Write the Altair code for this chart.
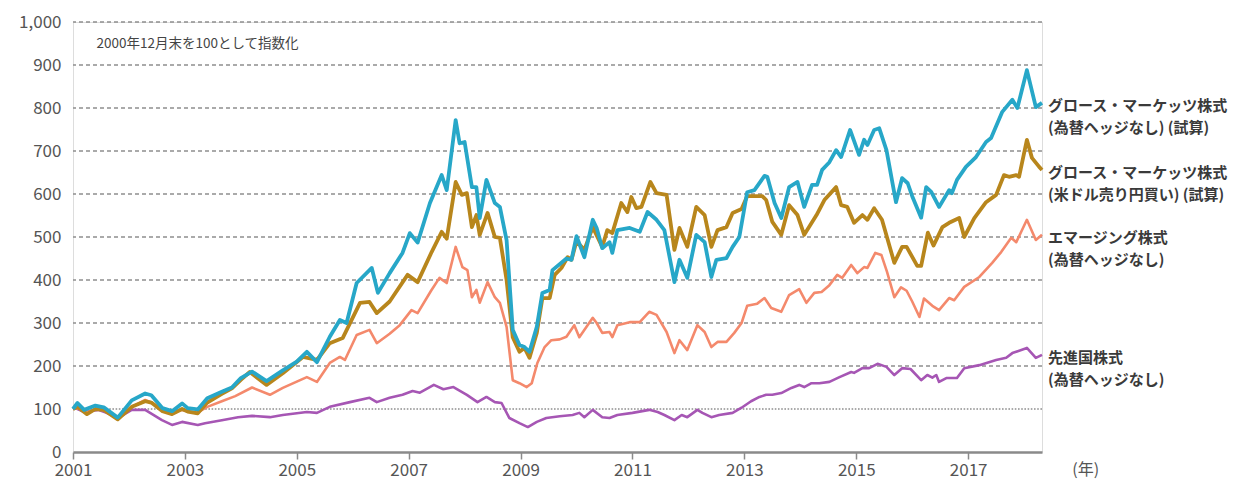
import altair as alt
import pandas as pd

# ---- data ----
blue_x = [2001.0, 2001.08, 2001.2, 2001.4, 2001.55, 2001.8, 2002.05, 2002.29, 2002.4, 2002.6, 2002.77, 2002.95,
          2003.05, 2003.23, 2003.4, 2003.66, 2003.84, 2004.0, 2004.2, 2004.46, 2004.75, 2005.0, 2005.18, 2005.36,
          2005.59, 2005.77, 2005.89, 2006.07, 2006.34, 2006.45, 2006.66, 2006.89, 2007.02, 2007.16, 2007.38,
          2007.59, 2007.68, 2007.84, 2007.91, 2008.0, 2008.13, 2008.21, 2008.27, 2008.39, 2008.54, 2008.63,
          2008.75, 2008.86, 2008.98, 2009.07, 2009.16, 2009.29, 2009.39, 2009.52, 2009.57, 2009.73, 2009.82,
          2009.91, 2010.0, 2010.14, 2010.29, 2010.36, 2010.46, 2010.59, 2010.64, 2010.73, 2010.95, 2011.13,
          2011.27, 2011.43, 2011.57, 2011.75, 2011.84, 2011.98, 2012.14, 2012.29, 2012.41, 2012.5, 2012.68,
          2012.79, 2012.91, 2013.05, 2013.18, 2013.36, 2013.41, 2013.54, 2013.66, 2013.8, 2013.95, 2014.07,
          2014.21, 2014.3, 2014.39, 2014.52, 2014.64, 2014.73, 2014.89, 2015.05, 2015.14, 2015.2, 2015.32,
          2015.41, 2015.54, 2015.71, 2015.82, 2015.92, 2016.0, 2016.16, 2016.25, 2016.34, 2016.48, 2016.66,
          2016.71, 2016.8, 2016.96, 2017.14, 2017.32, 2017.41, 2017.61, 2017.79, 2017.88, 2018.05, 2018.21,
          2018.32]
blue_y = [100, 114, 98, 108, 104, 80, 120, 136, 132, 102, 95, 113,
          102, 99, 125, 140, 150, 172, 187, 165, 190, 210, 233, 209,
          268, 307, 300, 393, 428, 370, 416, 463, 509, 487, 579,
          644, 609, 772, 718, 721, 616, 616, 544, 633, 579, 570,
          493, 284, 249, 244, 233, 291, 370, 377, 423, 440, 450,
          447, 502, 453, 540, 521, 474, 488, 463, 516, 521, 512,
          558, 540, 516, 395, 447, 405, 505, 488, 407, 447, 451,
          477, 500, 604, 609, 642, 640, 579, 544, 616, 628, 570,
          621, 621, 656, 674, 702, 686, 749, 691, 726, 714, 749,
          753, 702, 581, 637, 625, 595, 545, 616, 605, 570, 609,
          602, 633, 663, 686, 721, 730, 791, 819, 800, 888, 802,
          812]

gold_x = [2001.0, 2001.08, 2001.25, 2001.4, 2001.55, 2001.8, 2002.05, 2002.29, 2002.4, 2002.6, 2002.77, 2002.95,
          2003.05, 2003.23, 2003.4, 2003.66, 2003.84, 2004.0, 2004.16, 2004.46, 2004.75, 2005.11, 2005.36,
          2005.59, 2005.82, 2006.13, 2006.3, 2006.43, 2006.66, 2006.98, 2007.16, 2007.41, 2007.59, 2007.68,
          2007.84, 2007.95, 2008.04, 2008.13, 2008.21, 2008.27, 2008.41, 2008.54, 2008.63, 2008.75, 2008.86,
          2008.98, 2009.07, 2009.16, 2009.29, 2009.39, 2009.52, 2009.61, 2009.73, 2009.84, 2009.91, 2010.0,
          2010.14, 2010.29, 2010.46, 2010.55, 2010.64, 2010.8, 2010.91, 2010.98, 2011.07, 2011.16, 2011.32,
          2011.43, 2011.61, 2011.75, 2011.84, 2011.98, 2012.14, 2012.29, 2012.41, 2012.52, 2012.68, 2012.79,
          2012.95, 2013.05, 2013.32, 2013.39, 2013.5, 2013.66, 2013.8, 2013.95, 2014.07, 2014.29, 2014.43,
          2014.64, 2014.73, 2014.84, 2014.96, 2015.11, 2015.2, 2015.32, 2015.46, 2015.68, 2015.82, 2015.9,
          2016.09, 2016.16, 2016.28, 2016.38, 2016.54, 2016.66, 2016.84, 2016.93, 2017.11, 2017.32, 2017.5,
          2017.64, 2017.73, 2017.86, 2017.91, 2018.05, 2018.14, 2018.27, 2018.32]
gold_y = [100, 105, 88, 100, 98, 76, 105, 118, 115, 95, 88, 100,
          94, 90, 115, 135, 148, 168, 186, 156, 183, 221, 214,
          253, 265, 347, 349, 323, 350, 412, 395, 465, 512, 496,
          628, 598, 602, 523, 551, 505, 556, 500, 498, 400, 267,
          233, 242, 219, 277, 358, 358, 412, 428, 453, 447, 490,
          470, 523, 477, 516, 509, 579, 558, 593, 567, 570, 628,
          602, 598, 470, 521, 477, 570, 551, 477, 516, 523, 556,
          565, 595, 595, 586, 535, 505, 574, 551, 505, 551, 586,
          616, 574, 570, 533, 551, 540, 567, 540, 440, 477, 477,
          433, 433, 510, 480, 523, 533, 544, 500, 544, 581, 598,
          644, 640, 644, 640, 726, 684, 663, 656]

salmon_x = [2001.0, 2001.08, 2001.25, 2001.4, 2001.55, 2001.8, 2002.05, 2002.29, 2002.4, 2002.6, 2002.77, 2002.95,
            2003.05, 2003.23, 2003.4, 2003.66, 2003.9, 2004.2, 2004.52, 2004.75, 2005.18, 2005.36, 2005.59,
            2005.77, 2005.86, 2006.07, 2006.3, 2006.43, 2006.66, 2006.84, 2007.05, 2007.16, 2007.4, 2007.55,
            2007.68, 2007.84, 2007.96, 2008.05, 2008.13, 2008.21, 2008.27, 2008.41, 2008.54, 2008.63, 2008.75,
            2008.86, 2008.98, 2009.11, 2009.2, 2009.3, 2009.43, 2009.55, 2009.7, 2009.82, 2009.96, 2010.05,
            2010.29, 2010.36, 2010.46, 2010.59, 2010.64, 2010.73, 2010.95, 2011.13, 2011.3, 2011.43, 2011.61,
            2011.75, 2011.84, 2011.98, 2012.16, 2012.29, 2012.41, 2012.52, 2012.68, 2012.82, 2012.95, 2013.05,
            2013.23, 2013.36, 2013.48, 2013.66, 2013.8, 2013.98, 2014.11, 2014.25, 2014.38, 2014.52, 2014.66,
            2014.75, 2014.91, 2015.02, 2015.14, 2015.2, 2015.34, 2015.45, 2015.55, 2015.68, 2015.8, 2015.9,
            2016.0, 2016.13, 2016.21, 2016.36, 2016.48, 2016.66, 2016.75, 2016.93, 2017.2, 2017.43, 2017.59,
            2017.77, 2017.86, 2018.05, 2018.21, 2018.32]
salmon_y = [100, 102, 92, 100, 97, 78, 105, 121, 115, 100, 92, 98,
            95, 92, 105, 118, 130, 150, 133, 149, 174, 163, 207,
            221, 214, 272, 284, 253, 275, 295, 330, 323, 375, 405,
            393, 477, 430, 423, 360, 377, 347, 395, 360, 347, 291,
            167, 160, 151, 160, 207, 244, 260, 262, 268, 295, 267,
            312, 300, 277, 279, 267, 295, 302, 302, 326, 319, 279,
            230, 260, 237, 295, 279, 244, 256, 256, 277, 300, 340,
            345, 358, 335, 326, 365, 379, 347, 370, 372, 388, 412,
            405, 435, 416, 430, 428, 463, 458, 419, 360, 383, 375,
            350, 314, 357, 340, 330, 358, 353, 384, 407, 440, 465,
            498, 488, 540, 493, 505]

purple_x = [2001.0, 2001.04, 2001.2, 2001.45, 2001.6, 2001.8, 2002.05, 2002.29, 2002.59, 2002.77, 2002.95, 2003.23,
            2003.36, 2003.66, 2003.95, 2004.2, 2004.52, 2004.75, 2005.18, 2005.36, 2005.59, 2005.95, 2006.3,
            2006.43, 2006.66, 2006.89, 2007.07, 2007.2, 2007.45, 2007.62, 2007.8, 2008.04, 2008.23, 2008.39,
            2008.54, 2008.66, 2008.8, 2008.98, 2009.13, 2009.29, 2009.46, 2009.7, 2009.93, 2010.05, 2010.14,
            2010.29, 2010.46, 2010.59, 2010.73, 2011.0, 2011.3, 2011.45, 2011.57, 2011.75, 2011.88, 2011.98,
            2012.16, 2012.25, 2012.41, 2012.55, 2012.79, 2012.95, 2013.12, 2013.27, 2013.39, 2013.5, 2013.66,
            2013.84, 2013.98, 2014.07, 2014.2, 2014.34, 2014.52, 2014.7, 2014.91, 2014.96, 2015.11, 2015.23,
            2015.38, 2015.54, 2015.68, 2015.82, 2015.97, 2016.16, 2016.27, 2016.36, 2016.43, 2016.48, 2016.61,
            2016.8, 2016.93, 2017.2, 2017.5, 2017.68, 2017.79, 2018.05, 2018.21, 2018.32]
purple_y = [100, 102, 93, 98, 91, 79, 98, 98, 74, 63, 70, 63,
            67, 74, 81, 84, 81, 86, 93, 91, 105, 116, 126,
            116, 126, 133, 142, 138, 156, 146, 151, 133, 116, 128,
            116, 114, 79, 67, 58, 70, 79, 83, 86, 91, 81,
            98, 81, 79, 86, 91, 98, 93, 86, 74, 86, 81,
            98, 91, 81, 86, 91, 103, 118, 128, 133, 133, 137,
            149, 156, 151, 160, 160, 163, 174, 186, 184, 195, 195,
            205, 198, 179, 195, 193, 167, 179, 173, 179, 163, 172,
            172, 195, 202, 214, 219, 230, 242, 219, 226]

series_keys = ["dm", "em", "gh", "gu"]
series_line1 = ["先進国株式", "エマージング株式", "グロース・マーケッツ株式", "グロース・マーケッツ株式"]
series_line2 = ["(為替ヘッジなし)", "(為替ヘッジなし)", "(米ドル売り円買い) (試算)", "(為替ヘッジなし) (試算)"]
series_colors = ["#a656b4", "#f4896c", "#b8861c", "#27a7c8"]
series_widths = [2.6, 2.6, 3.8, 3.8]

grid_dashed = [200, 300, 400, 500, 600, 700, 800, 900, 1000]
grid_dotted = [100]
x_ticks = [2001, 2003, 2005, 2007, 2009, 2011, 2013, 2015, 2017]
y_ticks = [0, 100, 200, 300, 400, 500, 600, 700, 800, 900, 1000]
note_text = "2000年12月末を100として指数化"
unit_text = "(年)"

# ---- build tables ----
xs = [purple_x, salmon_x, gold_x, blue_x]
ys = [purple_y, salmon_y, gold_y, blue_y]
rows = []
for k, xx, yy in zip(series_keys, xs, ys):
    for a, b in zip(xx, yy):
        rows.append({"s": k, "yr": a, "v": b})
df = pd.DataFrame(rows)

lab = pd.DataFrame({
    "s": series_keys,
    "yr": [xx[-1] for xx in xs],
    "v": [yy[-1] for yy in ys],
    "l1": series_line1,
    "l2": series_line2,
})

FONT = "Noto Sans CJK JP"
xscale = alt.Scale(domain=[2001, 2018.32], nice=False, zero=False)
yscale = alt.Scale(domain=[0, 1000], nice=False)

xenc = alt.X("yr:Q", scale=xscale,
             axis=alt.Axis(values=x_ticks, format="d", title=None, grid=False,
                           domainColor="#8a8a8a", domainWidth=2.5, tickColor="#8a8a8a",
                           tickWidth=1.5, tickSize=7, labelFontSize=17, labelColor="#555555",
                           labelPadding=3, labelFont=FONT, labelFlush=False, labelOverlap=False))
yenc = alt.Y("v:Q", scale=yscale,
             axis=alt.Axis(values=y_ticks, format=",.0f", title=None, grid=False, domain=False,
                           ticks=False, labelFontSize=17, labelColor="#555555", labelPadding=12,
                           labelFont=FONT))

g1 = alt.Chart(pd.DataFrame({"v": grid_dashed})).mark_rule(
    color="#8f8f8f", strokeWidth=1.6, strokeDash=[4, 3]).encode(y=alt.Y("v:Q", scale=yscale))
g2 = alt.Chart(pd.DataFrame({"v": grid_dotted})).mark_rule(
    color="#8f8f8f", strokeWidth=1.6, strokeDash=[1.6, 1.6]).encode(y=alt.Y("v:Q", scale=yscale))

layers = [g1, g2]
for i, k in enumerate(series_keys):
    layers.append(
        alt.Chart(df).transform_filter(alt.datum.s == k).mark_line(
            color=series_colors[i], strokeWidth=series_widths[i], strokeJoin="round", clip=False
        ).encode(x=xenc, y=yenc, order="yr:Q")
    )

t1 = alt.Chart(lab).mark_text(align="left", baseline="middle", dx=6, dy=3, fontSize=15,
                              fontWeight="bold", color="#3a3a3a", font=FONT).encode(
    x=alt.X("yr:Q", scale=xscale), y=alt.Y("v:Q", scale=yscale), text="l1:N")
t2 = alt.Chart(lab).mark_text(align="left", baseline="middle", dx=6, dy=25, fontSize=15,
                              fontWeight="bold", color="#3a3a3a", font=FONT).encode(
    x=alt.X("yr:Q", scale=xscale), y=alt.Y("v:Q", scale=yscale), text="l2:N")

note = alt.Chart(pd.DataFrame({"t": [note_text]})).mark_text(
    align="left", baseline="middle", fontSize=13.5, color="#444444", font=FONT).encode(
    x=alt.datum(2001.42, scale=xscale), y=alt.datum(950, scale=yscale), text="t:N")
unit = alt.Chart(pd.DataFrame({"t": [unit_text]})).mark_text(
    align="center", baseline="middle", fontSize=16, color="#555555", font=FONT).encode(
    x=alt.datum(2019.1, scale=xscale), y=alt.datum(-42, scale=yscale), text="t:N")

layers += [t1, t2, note, unit]

chart = alt.layer(*layers).properties(
    width=969, height=430,
    autosize=alt.AutoSizeParams(type="none"),
    padding={"left": 65, "top": 14, "right": 190, "bottom": 30},
).configure_view(stroke=None).configure(font=FONT)

chart.save("out.html", embed_options={"renderer": "svg", "actions": False})
